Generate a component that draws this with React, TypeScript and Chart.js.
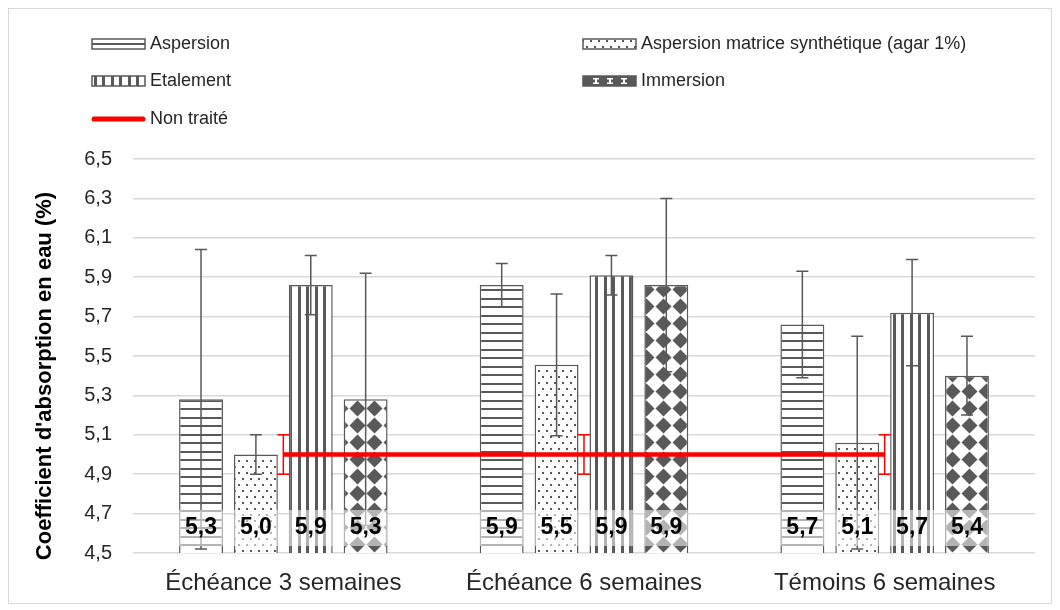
import React, { useEffect, useRef } from 'react';
import { Chart, registerables } from 'chart.js';

Chart.register(...registerables);

const FONT = "'Liberation Sans', Arial, sans-serif";
const DARK = '#595959';
const TEXT = '#262626';
const RED = '#ff0000';

// ---- data ----
const categories = ['Échéance 3 semaines', 'Échéance 6 semaines', 'Témoins 6 semaines'];
const aspersion = [5.28, 5.86, 5.66];
const aspersionErr = [0.76, 0.11, 0.27];
const matrice = [5.0, 5.455, 5.06];
const matriceErr = [0.1, 0.36, 0.54];
const etalement = [5.86, 5.91, 5.72];
const etalementErr = [0.15, 0.1, 0.27];
const immersion = [5.28, 5.86, 5.4];
const immersionErr = [0.64, 0.44, 0.2];
const nonTraite = [5.0, 5.0, 5.0];
const nonTraiteErr = [0.1, 0.1, 0.1];
const yMin = 4.5;
const yMax = 6.5;
const yStep = 0.2;

function fmt(v: number) {
  return v.toFixed(1).replace('.', ',');
}

function makePattern(kind: string, ctx: CanvasRenderingContext2D): CanvasPattern | string {
  const c = document.createElement('canvas');
  const g = c.getContext('2d');
  if (!g) return '#ffffff';
  if (kind === 'hlines') {
    c.width = 8; c.height = 17;
    g.fillStyle = '#fff'; g.fillRect(0, 0, 8, 17);
    g.fillStyle = DARK; g.fillRect(0, 0, 8, 2); g.fillRect(0, 8, 8, 2);
  } else if (kind === 'vlines') {
    c.width = 17; c.height = 8;
    g.fillStyle = '#fff'; g.fillRect(0, 0, 17, 8);
    g.fillStyle = DARK; g.fillRect(0, 0, 3, 8); g.fillRect(8, 0, 3, 8);
  } else if (kind === 'dots') {
    c.width = 8; c.height = 12;
    g.fillStyle = '#fff'; g.fillRect(0, 0, 8, 12);
    g.fillStyle = DARK; g.fillRect(1, 1, 2, 2); g.fillRect(5, 7, 2, 2);
  } else {
    c.width = 17; c.height = 17;
    g.fillStyle = '#fff'; g.fillRect(0, 0, 17, 17);
    g.fillStyle = DARK;
    g.beginPath();
    g.moveTo(8.5, 0.5); g.lineTo(16.5, 8.5); g.lineTo(8.5, 16.5); g.lineTo(0.5, 8.5);
    g.closePath(); g.fill();
  }
  return ctx.createPattern(c, 'repeat') || '#fff';
}

export default function App() {
  const ref = useRef<HTMLCanvasElement>(null);

  useEffect(() => {
    const canvas = ref.current;
    if (!canvas) return;
    const ctx = canvas.getContext('2d');
    if (!ctx) return;

    const barDs = (label: string, data: number[], errors: number[], kind: string) => ({
      type: 'bar',
      label,
      data,
      errors,
      kind,
      backgroundColor: makePattern(kind, ctx),
      borderColor: DARK,
      borderWidth: 1.5,
      order: 1,
      barPercentage: 0.8,
      categoryPercentage: 0.73,
    });

    const datasets: any[] = [
      barDs('Aspersion', aspersion, aspersionErr, 'hlines'),
      barDs('Aspersion matrice synthétique (agar 1%)', matrice, matriceErr, 'dots'),
      barDs('Etalement', etalement, etalementErr, 'vlines'),
      barDs('Immersion', immersion, immersionErr, 'diamonds'),
      {
        type: 'line',
        label: 'Non traité',
        data: nonTraite,
        errors: nonTraiteErr,
        borderColor: RED,
        backgroundColor: RED,
        borderWidth: 4.5,
        pointRadius: 0,
        fill: false,
        order: 0,
      },
    ];

    const custom = {
      id: 'custom',
      afterDatasetDraw(chart: any, args: any) {
        const ds = chart.data.datasets[args.index];
        const meta = args.meta;
        const ys = chart.scales.y;
        const c = chart.ctx;
        const isLine = meta.type === 'line';
        c.save();
        c.strokeStyle = isLine ? RED : DARK;
        c.lineWidth = 1.5;
        meta.data.forEach((el: any, i: number) => {
          const v = ds.data[i];
          const e = ds.errors[i];
          const x = el.x;
          const yt = ys.getPixelForValue(v + e);
          const yb = ys.getPixelForValue(v - e);
          c.beginPath();
          c.moveTo(x, yt); c.lineTo(x, yb);
          c.moveTo(x - 6, yt); c.lineTo(x + 6, yt);
          c.moveTo(x - 6, yb); c.lineTo(x + 6, yb);
          c.stroke();
        });
        c.restore();
      },
      afterDraw(chart: any) {
        const c = chart.ctx;
        const area = chart.chartArea;
        // data labels at base of bars
        chart.data.datasets.forEach((ds: any, di: number) => {
          const meta = chart.getDatasetMeta(di);
          if (meta.type !== 'bar') return;
          meta.data.forEach((el: any, i: number) => {
            const w = el.width;
            c.save();
            c.fillStyle = 'rgba(255,255,255,0.55)';
            c.fillRect(el.x - w / 2, area.bottom - 43, w, 36);
            c.fillStyle = '#000';
            c.font = `bold 23px ${FONT}`;
            c.textAlign = 'center';
            c.textBaseline = 'middle';
            c.fillText(fmt(ds.data[i]), el.x, area.bottom - 25);
            c.restore();
          });
        });
        // legend, two columns
        const cols = [83, 574];
        const rows = [35, 72, 110];
        chart.data.datasets.forEach((ds: any, i: number) => {
          const x = cols[i % 2];
          const y = rows[Math.floor(i / 2)];
          c.save();
          if (ds.type === 'line') {
            c.strokeStyle = RED;
            c.lineWidth = 5;
            c.lineCap = 'round';
            c.beginPath(); c.moveTo(x + 2, y); c.lineTo(x + 51, y); c.stroke();
          } else {
            if (ds.kind === 'diamonds') {
              c.fillStyle = DARK;
              c.fillRect(x, y - 5, 53, 10);
              c.fillStyle = '#fff';
              [13, 27, 41].forEach((ox) => {
                c.fillRect(x + ox - 3, y - 3, 6, 1.5);
                c.fillRect(x + ox - 1, y - 3, 2, 6);
                c.fillRect(x + ox - 3, y + 1.5, 6, 1.5);
              });
            } else {
              c.fillStyle = ds.backgroundColor;
              c.fillRect(x, y - 5, 53, 10);
            }
            c.strokeStyle = DARK;
            c.lineWidth = 1.5;
            c.strokeRect(x, y - 5, 53, 10);
          }
          c.fillStyle = TEXT;
          c.font = `18px ${FONT}`;
          c.textAlign = 'left';
          c.textBaseline = 'middle';
          c.fillText(ds.label, x + 58, y);
          c.restore();
        });
        // y axis title
        c.save();
        c.translate(36, 367);
        c.rotate(-Math.PI / 2);
        c.fillStyle = '#000';
        c.font = `bold 22px ${FONT}`;
        c.textAlign = 'center';
        c.textBaseline = 'middle';
        c.fillText("Coefficient d'absorption en eau (%)", 0, 0);
        c.restore();
      },
    };

    const chart = new Chart(ctx, {
      type: 'bar',
      data: { labels: categories, datasets },
      options: {
        responsive: false,
        animation: false,
        layout: { padding: { top: 150, right: 16, left: 0, bottom: 0 } },
        plugins: {
          legend: { display: false },
          tooltip: { enabled: false },
          title: { display: false },
        },
        scales: {
          x: {
            grid: { display: false, drawTicks: false },
            border: { display: false },
            ticks: {
              font: { size: 24, family: FONT },
              color: TEXT,
              padding: 16,
              maxRotation: 0,
              autoSkip: false,
            },
            afterFit(s: any) { s.height = 50; },
          },
          y: {
            min: yMin,
            max: yMax,
            ticks: {
              stepSize: yStep,
              padding: 21,
              font: { size: 20, family: FONT },
              color: TEXT,
              callback: (v: any) => fmt(Number(v)),
            },
            grid: { color: '#d9d9d9', lineWidth: 1.5, drawTicks: false },
            border: { display: false },
            afterFit(s: any) { s.width = 124; },
          },
        },
      } as any,
      plugins: [custom],
    } as any);

    return () => chart.destroy();
  }, []);

  return (
    <div style={{ width: 1042, height: 594, border: '1px solid #d9d9d9', background: '#fff' }}>
      <canvas ref={ref} width={1042} height={594} style={{ display: 'block' }} />
    </div>
  );
}
